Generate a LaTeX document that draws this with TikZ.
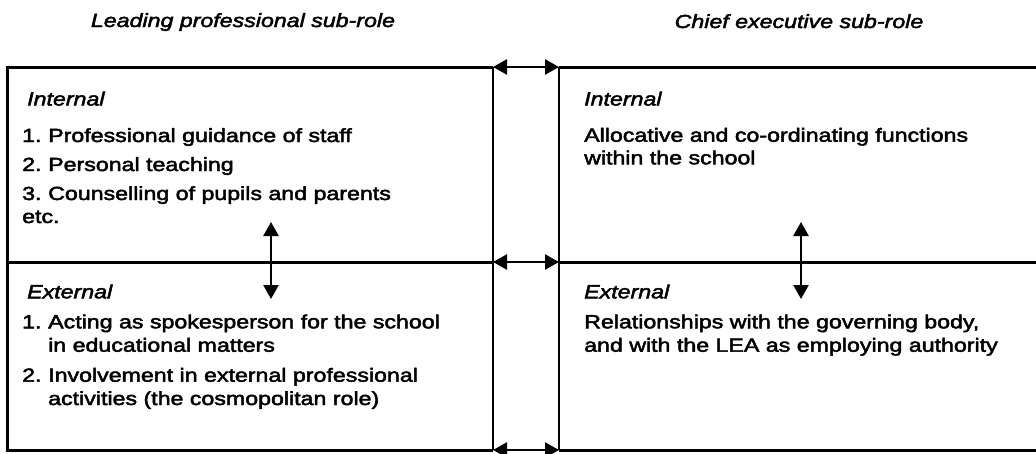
\documentclass[tikz,border=0pt]{standalone}
\usepackage{fontspec}
\setmainfont{Liberation Sans}[FakeStretch=1.22,FakeBold=2.5]
\usetikzlibrary{arrows.meta}
\begin{document}
\begin{tikzpicture}[x=1pt,y=-1pt,
  frame/.style={line width=3pt},
  divider/.style={line width=2.6pt},
  dbl/.style={line width=2.6pt,{Triangle[length=14pt,width=15pt]}-{Triangle[length=14pt,width=15pt]}},
  txt/.style={anchor=base west,inner sep=0pt,font=\fontsize{19}{23}\selectfont},
  head/.style={anchor=base west,inner sep=0pt,font=\fontsize{19}{23}\selectfont\itshape},
  title/.style={anchor=base,inner sep=0pt,font=\fontsize{19}{23}\selectfont\itshape}]
\useasboundingbox (0,0) rectangle (1036,453);
\clip (0,0) rectangle (1036,453);
% frame coordinates
\coordinate (TL) at (7,67);   \coordinate (TA) at (493,67);  \coordinate (TB) at (559,67);  \coordinate (TR) at (1036,67);
\coordinate (ML) at (7,262);  \coordinate (MA) at (493,262); \coordinate (MB) at (559,262); \coordinate (MR) at (1036,262);
\coordinate (BL) at (7,450);  \coordinate (BA) at (493,450); \coordinate (BB) at (559,450); \coordinate (BR) at (1036,450);
\draw[frame] (TA) -- (TL) -- (BL) -- (BA);
\draw[frame] (TB) -- (TR);
\draw[frame] (BB) -- (BR);
\draw[frame] (ML) -- (MA);
\draw[frame] (MB) -- (MR);
\draw[divider] (TA) -- (BA);
\draw[divider] (TB) -- (BB);
\draw[dbl] (TA) -- (TB);
\draw[dbl] (MA) -- (MB);
\draw[dbl] (BA) -- (BB);
% vertical double arrows
\coordinate (LU) at (271,222); \coordinate (LD) at (271,299);
\coordinate (RU) at (801,222); \coordinate (RD) at (801,299);
\draw[dbl] (LU) -- (LD);
\draw[dbl] (RU) -- (RD);
% titles
\node[title] (t1) at (243,27) {Leading professional sub-role};
\node[title] (t2) at (799,28) {Chief executive sub-role};
% left internal
\node[head] (li) at (27,105.5) {Internal};
\node[txt] (li1n) at (22,142) {1.};
\node[txt] (li1) at (48,142) {Professional guidance of staff};
\node[txt] (li2n) at (22,171) {2.};
\node[txt] (li2) at (48,171) {Personal teaching};
\node[txt] (li3n) at (22,200) {3.};
\node[txt] (li3) at (48,200) {Counselling of pupils and parents};
\node[txt] (li4) at (22,223) {etc.};
% left external
\node[head] (le) at (27,298.3) {External};
\node[txt] (le1n) at (22,328.3) {1.};
\node[txt] (le1) at (48,328.3) {Acting as spokesperson for the school};
\node[txt] (le1b) at (48,351.7) {in educational matters};
\node[txt] (le2n) at (22,381.7) {2.};
\node[txt] (le2) at (48,381.7) {Involvement in external professional};
\node[txt] (le2b) at (48,405) {activities (the cosmopolitan role)};
% right internal
\node[head] (ri) at (584,105.5) {Internal};
\node[txt] (ri1) at (584,141.7) {Allocative and co-ordinating functions};
\node[txt] (ri2) at (584,164.3) {within the school};
% right external
\node[head] (re) at (584,298.3) {External};
\node[txt] (re1) at (584,328.3) {Relationships with the governing body,};
\node[txt] (re2) at (584,351.7) {and with the LEA as employing authority};
\end{tikzpicture}
\end{document}
